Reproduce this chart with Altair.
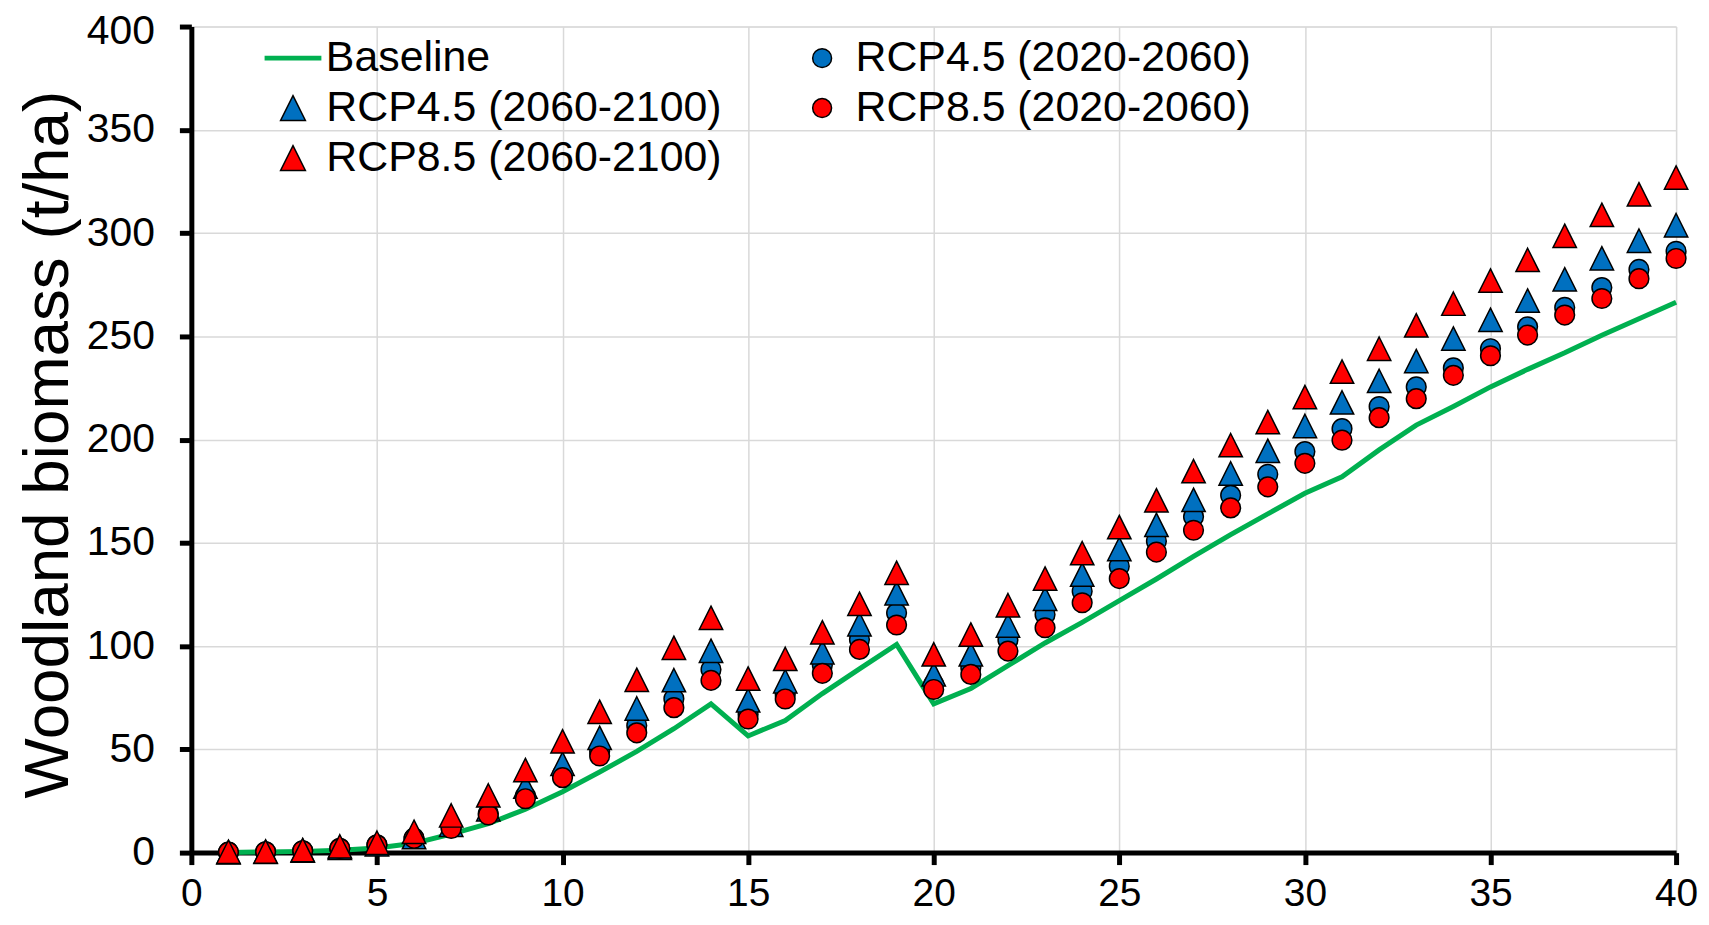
import altair as alt
import pandas as pd

years = list(range(1, 41))

baseline = [0.1, 0.3, 0.6, 1.2, 2.2, 4.5, 9, 14, 21, 29.5,
            39, 49, 60, 72, 56.5, 64, 77, 89, 100.8, 72,
            79.5, 90.5, 101.5, 111.5, 122, 132.5, 143.5, 154, 164, 174,
            182, 195, 207, 216, 225.5, 234, 242, 250.5, 258.5, 266.5]

rcp45_early = [0.2, 0.4, 0.9, 2.1, 3.8, 7.0, 12.2, 19, 27.5, 38,
               49, 61.6, 74.5, 88.7, 67, 76.6, 90.7, 103.2, 116, 81.5,
               89.5, 103, 115.3, 126.6, 138.7, 150.8, 162.6, 173, 183.2, 194.2,
               205.3, 216, 225.5, 234.7, 244, 254.6, 264, 273.6, 282.4, 291.2]

rcp45_late = [0.2, 0.4, 1.0, 2.3, 4, 7.5, 13.5, 21, 32, 43,
              55.6, 69.8, 83.5, 97.7, 73.7, 83, 97, 110.6, 125.6, 86.3,
              96, 110, 122.9, 134.6, 147, 158.7, 170.8, 183.6, 194.6, 206.6,
              218, 228.4, 238, 248.9, 258, 267.3, 277.6, 287.8, 296.3, 303.8]

rcp85_early = [0.2, 0.4, 0.9, 2, 3.7, 6.9, 11.7, 18.2, 26.1, 36.3,
               46.8, 58, 70.2, 83.4, 64.7, 74.4, 86.8, 98.4, 110.2, 79,
               86.3, 97.6, 108.9, 121, 132.7, 145.5, 156.1, 166.9, 177.1, 188.5,
               199.7, 210.6, 219.8, 231.1, 240.6, 250.6, 260.3, 268.3, 277.9, 287.7]

rcp85_late = [0.4, 0.5, 1.2, 3, 4.8, 10.1, 18, 27.7, 40, 53.9,
              68.2, 83.7, 99.2, 113.7, 84.3, 93.8, 106.7, 120.5, 135.5, 96,
              105.6, 119.8, 132.7, 145, 157.6, 170.6, 184.7, 197.3, 208.5, 220.6,
              232.9, 244, 255.3, 265.8, 277, 287, 298.7, 308.8, 318.8, 326.9]

GREEN, BLUE, RED = "#00B050", "#0070C0", "#FF0000"
TRI = "M0,-1L1,1L-1,1Z"

x_ticks = [0, 5, 10, 15, 20, 25, 30, 35, 40]
y_ticks = [0, 50, 100, 150, 200, 250, 300, 350, 400]

FONT = "Liberation Sans"
LEG_FS = 43

x_enc = alt.X("x:Q", scale=alt.Scale(domain=[0, 40], nice=False, zero=False),
              axis=alt.Axis(values=x_ticks, title=None, labelFontSize=39,
                            labelFont=FONT, labelColor="black",
                            labelFlush=False, labelOverlap=False,
                            tickSize=12, tickWidth=5, tickColor="black",
                            domainWidth=5, domainColor="black",
                            labelPadding=10,
                            grid=True, gridColor="#d9d9d9", gridWidth=1.5))
y_enc = alt.Y("y:Q", scale=alt.Scale(domain=[0, 400], nice=False),
              axis=alt.Axis(values=y_ticks, title="Woodland biomass (t/ha)",
                            titleFont=FONT, titleFontSize=64,
                            titleFontWeight="normal", titleColor="black",
                            titleAngle=270, titleAlign="center",
                            titleBaseline="alphabetic",
                            titleX=-124, titleY=419,
                            labelFontSize=41, labelFont=FONT,
                            labelColor="black", labelPadding=25,
                            labelOffset={"condition": {"test": "datum.value === 400",
                                                       "value": 5},
                                         "value": 0},
                            labelOverlap=False, labelFlush=False,
                            tickSize=12, tickWidth=5, tickColor="black",
                            domainWidth=5, domainColor="black",
                            grid=True, gridColor="#d9d9d9", gridWidth=1.5))


def make_legend(lx, ly, stype, ssize, swidth, scolor, loff):
    return alt.Legend(
        title=None, orient="none", legendX=lx, legendY=ly, padding=0,
        labelFont=FONT, labelFontSize=LEG_FS, labelColor="black", labelLimit=1000,
        labelOffset=loff, symbolType=stype, symbolSize=ssize,
        symbolStrokeWidth=swidth, symbolStrokeColor=scolor, symbolOpacity=1,
    )


def series_df(name, vals):
    return pd.DataFrame({"x": years, "y": vals, "series": [name] * len(years)})


line = alt.Chart(series_df("Baseline", baseline)).mark_line(
    strokeWidth=5).encode(
    x=x_enc, y=y_enc,
    color=alt.Color("series:N", scale=alt.Scale(domain=["Baseline"], range=[GREEN]),
                    legend=make_legend(71, 0.7, "stroke", 3249, 5, GREEN, 2)),
)


def point_layer(name, vals, colour, shape, msize, lx, ly, lsize):
    return alt.Chart(series_df(name, vals)).mark_point(
        filled=True, opacity=1, stroke="black", strokeWidth=1.5,
        shape=shape, size=msize).encode(
        x="x:Q", y="y:Q",
        color=alt.Color("series:N", scale=alt.Scale(domain=[name], range=[colour]),
                        legend=make_legend(lx, ly, shape, lsize, 1.5, "black", 12)),
    )


half = LEG_FS / 2
p45e = point_layer("RCP4.5 (2020-2060)", rcp45_early, BLUE, "circle", 390, 633 - half, 31.7 - half, 360)
p45l = point_layer("RCP4.5 (2060-2100)", rcp45_late, BLUE, TRI, 550, 102 - half, 81.8 - half, 620)
p85e = point_layer("RCP8.5 (2020-2060)", rcp85_early, RED, "circle", 390, 633 - half, 81.8 - half, 360)
p85l = point_layer("RCP8.5 (2060-2100)", rcp85_late, RED, TRI, 550, 102 - half, 132 - half, 620)

chart = alt.layer(line, p45e, p45l, p85e, p85l).resolve_scale(
    color="independent"
).properties(
    width=1490, height=829,
    padding={"left": 184, "top": 17, "right": 25, "bottom": 62},
    autosize=alt.AutoSizeParams(type="none"),
).configure_view(stroke="transparent").configure(background="white")

chart.save("out.html", embed_options={"renderer": "svg", "actions": False})
